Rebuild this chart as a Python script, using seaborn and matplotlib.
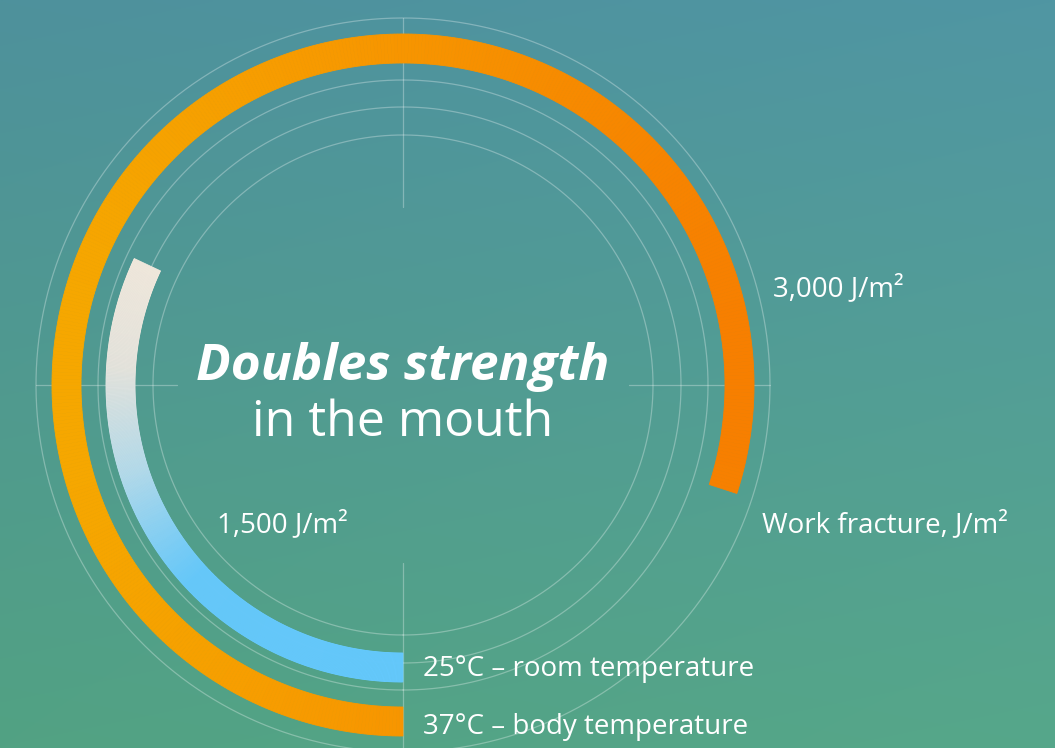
import numpy as np
import matplotlib
matplotlib.use("Agg")
import matplotlib.pyplot as plt
import seaborn as sns
from matplotlib.colors import to_rgb

sns.set_theme(style="white")
plt.rcParams["font.family"] = ["Open Sans", "DejaVu Sans"]

# Data
conditions = ["25°C – room temperature", "37°C – body temperature"]
work_fracture = [1500, 3000]          # J/m2
arc_sweep = [0.32, 0.80]              # part of a full turn each arc covers
value_labels = ["1,500 J/m²", "3,000 J/m²"]
axis_label = "Work fracture, J/m²"
title_bold = "Doubles strength"
title_rest = "in the mouth"

W, H = 1055, 748
fig = plt.figure(figsize=(W / 100, H / 100), dpi=100)

# background gradient, teal on top to green at the bottom
bg = fig.add_axes([0, 0, 1, 1])
tl, tr = np.array(to_rgb("#4e919c")), np.array(to_rgb("#5096a3"))
bl, br = np.array(to_rgb("#52a283")), np.array(to_rgb("#56a78a"))
yy, xx = np.mgrid[0:1:200j, 0:1:200j]
yy, xx = yy[..., None], xx[..., None]
img = tl * (1 - xx) * (1 - yy) + tr * xx * (1 - yy) + bl * (1 - xx) * yy + br * xx * yy
bg.imshow(img, extent=[0, W, H, 0], aspect="auto", interpolation="bilinear")
bg.set_xlim(0, W)
bg.set_ylim(H, 0)
bg.axis("off")

# polar axes, centre of the rings
cx, cy, R = 403, 385, 372
pax = fig.add_axes([(cx - R) / W, (H - cy - R) / H, 2 * R / W, 2 * R / H], projection="polar")
pax.set_theta_zero_location("S")
pax.set_theta_direction(-1)
pax.set_ylim(0, R)
pax.set_facecolor("none")
pax.spines["polar"].set_visible(False)
pax.set_xticks([])
pax.set_yticks([])
pax.grid(False)

# thin guide rings and cross hair
grid_kw = dict(color="white", alpha=0.3, lw=0.9, zorder=1)
full = np.linspace(0, 2 * np.pi, 720)
for r in [250, 278, 305, 367]:
    pax.plot(full, np.full_like(full, r), **grid_kw)
for th, r0 in [(0, 178), (np.pi, 178), (np.pi / 2, 226), (3 * np.pi / 2, 226)]:
    pax.plot([th, th], [r0, 367], **grid_kw)

# the two arcs, built from many thin polar bars so they can carry a gradient
rings = [(268, 29), (322, 29)]
blue_cmap = sns.blend_palette(["#f1e8dc", "#e5e3dc", "#b4daea", "#66c8fa", "#64c8fb"], as_cmap=True)
orange_cmap = sns.blend_palette(["#f6a800", "#f79500", "#f77e00"], as_cmap=True)
n = 500
for i, sweep in enumerate(arc_sweep):
    r0, h = rings[i]
    edges = np.linspace(0, sweep * 2 * np.pi, n + 1)
    mids = (edges[:-1] + edges[1:]) / 2
    rm = r0 + h / 2
    if i == 0:
        y_rel = rm * np.cos(mids)
        t = np.clip((y_rel + 125) / (297 + 125), 0, 1)
        cols = blue_cmap(t)
    else:
        x_rel = -rm * np.sin(mids)
        t = np.clip((x_rel + 351) / 702, 0, 1)
        cols = orange_cmap(t)
    pax.bar(edges[:-1], h, width=np.diff(edges), bottom=r0, align="edge",
            color=cols, edgecolor=cols, linewidth=0.6, zorder=3)

# texts
bg.text(403, 367, title_bold, color="white", fontsize=37, fontweight="bold",
        fontstyle="italic", ha="center", va="center")
bg.text(403, 423, title_rest, color="white", fontsize=36, ha="center", va="center")
bg.text(773, 289, value_labels[1], color="white", fontsize=20, ha="left", va="center")
bg.text(217, 525, value_labels[0], color="white", fontsize=20, ha="left", va="center")
bg.text(762, 525, axis_label, color="white", fontsize=20, ha="left", va="center")
bg.text(423, 669, conditions[0], color="white", fontsize=20, ha="left", va="center")
bg.text(423, 727, conditions[1], color="white", fontsize=20, ha="left", va="center")

fig.savefig("out.png", dpi=100)
